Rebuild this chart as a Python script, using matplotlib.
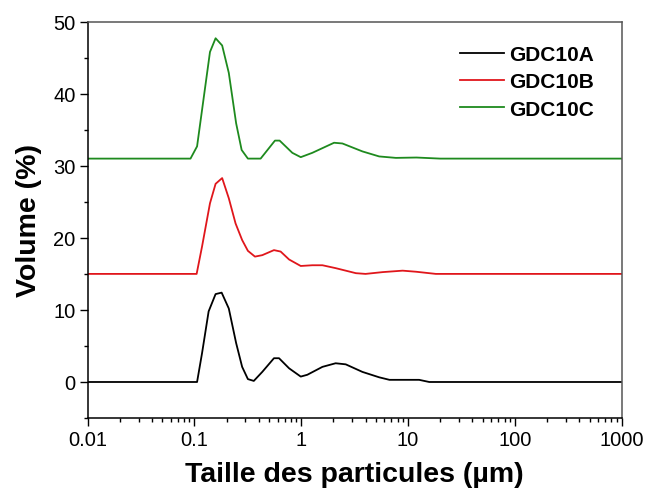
import matplotlib.pyplot as plt
from matplotlib.ticker import LogLocator, MultipleLocator, FixedLocator

plt.rcParams['font.family'] = ['Liberation Sans', 'DejaVu Sans']

# GDC10A (baseline 0)
xA = [0.01, 0.106, 0.118, 0.136, 0.158, 0.18, 0.21, 0.246, 0.28, 0.317, 0.36,
      0.432, 0.556, 0.62, 0.77, 0.99, 1.14, 1.58, 2.1, 2.61, 3.74, 5.37, 6.7,
      12.7, 15.8, 1000]
yA = [0, 0, 4.0, 9.8, 12.2, 12.4, 10.2, 5.4, 2.1, 0.4, 0.15,
      1.4, 3.3, 3.3, 1.9, 0.75, 1.0, 2.1, 2.6, 2.45, 1.4, 0.65, 0.3,
      0.3, 0, 0]

# GDC10B (offset +15)
xB = [0.01, 0.105, 0.118, 0.14, 0.158, 0.182, 0.21, 0.243, 0.28, 0.317, 0.369,
      0.432, 0.556, 0.642, 0.77, 0.99, 1.27, 1.58, 2.1, 3.25, 4.0, 5.8, 8.9,
      11.9, 18.2, 1000]
yB = [15, 15, 18.8, 24.8, 27.5, 28.3, 25.5, 22.0, 19.7, 18.2, 17.4,
      17.6, 18.3, 18.1, 17.0, 16.1, 16.2, 16.2, 15.8, 15.1, 15.0, 15.25, 15.45,
      15.3, 15.0, 15.0]

# GDC10C (offset +31)
xC = [0.01, 0.092, 0.106, 0.14, 0.158, 0.182, 0.21, 0.246, 0.277, 0.317, 0.417,
      0.568, 0.628, 0.826, 0.99, 1.27, 2.03, 2.43, 3.74, 5.37, 7.7, 12.0,
      20.0, 1000]
yC = [31, 31, 32.7, 45.8, 47.7, 46.7, 42.9, 35.9, 32.2, 31.0, 31.0,
      33.5, 33.5, 31.8, 31.2, 31.8, 33.2, 33.1, 32.0, 31.3, 31.1, 31.15,
      31.0, 31.0]

fig = plt.figure(figsize=(6.46, 4.89), dpi=100)
ax = fig.add_axes([0.1355, 0.1431, 0.9624 - 0.1355, 0.9536 - 0.1431])

ax.plot(xA, yA, color='black', lw=1.3, label='GDC10A')
ax.plot(xB, yB, color='#e0161b', lw=1.3, label='GDC10B')
ax.plot(xC, yC, color='#1e8a1e', lw=1.3, label='GDC10C')

ax.set_xscale('log')
ax.set_xlim(0.01, 1000)
ax.set_ylim(-5, 50)

ax.xaxis.set_major_locator(FixedLocator([0.01, 0.1, 1, 10, 100, 1000]))
ax.xaxis.set_minor_locator(LogLocator(base=10, subs=range(2, 10), numticks=20))
ax.set_xticklabels(['0.01', '0.1', '1', '10', '100', '1000'])
ax.yaxis.set_major_locator(MultipleLocator(10))
ax.yaxis.set_minor_locator(MultipleLocator(5))

ax.tick_params(which='major', direction='out', length=6, width=1, labelsize=14.5,
               pad=2.5, top=False, right=False)
ax.tick_params(which='minor', direction='out', length=3, width=1,
               top=False, right=False)

for side in ['left', 'bottom']:
    ax.spines[side].set_color('black')
    ax.spines[side].set_linewidth(1.1)
for side in ['top', 'right']:
    ax.spines[side].set_color('#555555')
    ax.spines[side].set_linewidth(1.1)

ax.set_xlabel('Taille des particules (µm)', fontsize=20.5, fontweight='bold', labelpad=8.5)
ax.set_ylabel('Volume (%)', fontsize=20.5, fontweight='bold', labelpad=8)

leg = ax.legend(loc='upper right', bbox_to_anchor=(1.0, 1.012), frameon=False,
                handlelength=2.1, handletextpad=0.25, labelspacing=0.4,
                borderaxespad=0.95, prop={'size': 15, 'weight': 'bold'})

fig.savefig('out.png', dpi=100)
